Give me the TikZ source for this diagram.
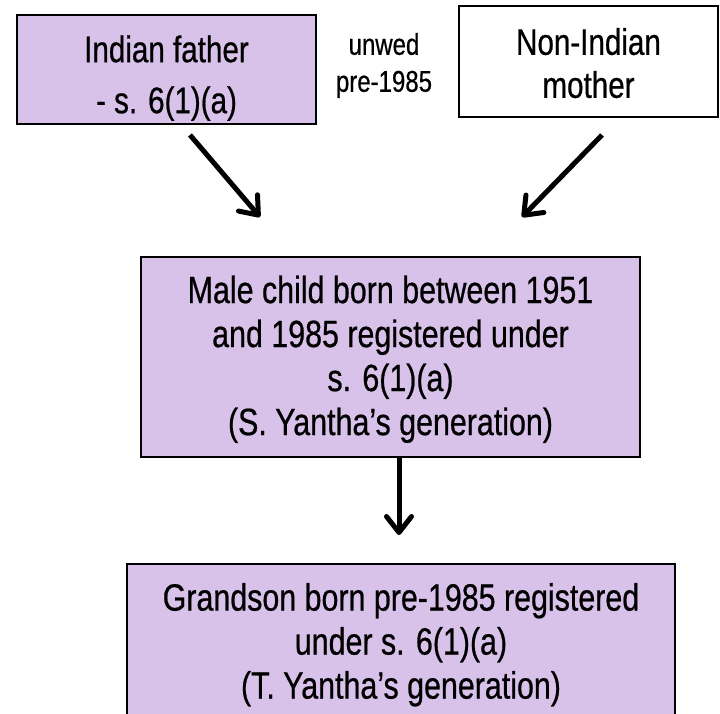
\documentclass[tikz,border=0pt]{standalone}
\usepackage{fontspec}
\usepackage{xcolor}
\usepackage{tikz}
\usetikzlibrary{arrows.meta}
\newfontfamily\boxfont{Liberation Sans}[FakeStretch=0.8,FakeBold=0.6]
\definecolor{ink}{HTML}{000000}
\definecolor{lilac}{HTML}{D9C2EA}
\tikzset{
  card/.style={draw=ink, line width=1.5pt, inner sep=0pt, align=center, text=ink},
  parent/.style={card, font=\boxfont\fontsize{37}{51}\selectfont},
  child/.style={card, fill=lilac, font=\boxfont\fontsize{38}{44}\selectfont},
  note/.style={align=center, text=ink, inner sep=0pt, font=\boxfont\fontsize{30}{37}\selectfont},
  flow/.style={draw=ink, line width=5pt, -{Straight Barb[length=16pt,width=25pt,round]}}
}

\begin{document}
\begin{tikzpicture}[x=1pt,y=-1pt]
  \clip (0,0) rectangle (720,714);

  % parents
  \node[parent, fill=lilac, minimum width=299pt, minimum height=109pt] (father) at (166.5,69.5)
    {\rule{0pt}{44pt}Indian father\\- s. 6(1)(a)};
  \node[parent, fill=white, minimum width=259pt, minimum height=111pt,
        font=\boxfont\fontsize{37}{43}\selectfont] (mother) at (588.5,61.5)
    {\rule{0pt}{30pt}Non-Indian\\mother};
  \node[note] (unwed) at (384,65.5) {unwed\\pre-1985};

  % children
  \node[child, minimum width=499pt, minimum height=200pt] (son) at (390.5,357)
    {\rule{0pt}{32pt}Male child born between 1951\\and 1985 registered under\\s. 6(1)(a)\\(S. Yantha’s generation)};
  \node[child, minimum width=548pt, minimum height=162pt, anchor=north] (grandson) at (401,563)
    {Grandson born pre-1985 registered\\under s. 6(1)(a)\\(T. Yantha’s generation)};

  \coordinate (fatherTail) at (190,135);
  \coordinate (sonHeadL) at (260,217);
  \coordinate (motherTail) at (602,135);
  \coordinate (sonHeadR) at (522,217);
  \coordinate (grandHead) at (399,535);

  \draw[flow] (fatherTail) -- (sonHeadL);
  \draw[flow] (motherTail) -- (sonHeadR);
  \draw[flow] (son.south -| grandHead) -- (grandHead);
\end{tikzpicture}
\end{document}
